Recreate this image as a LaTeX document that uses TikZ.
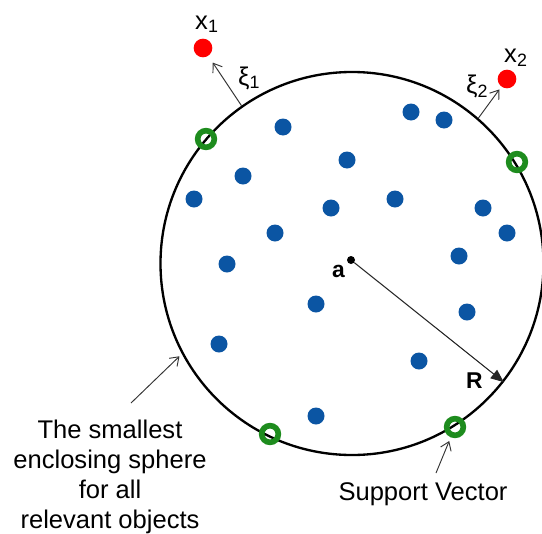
\documentclass[tikz,border=0pt]{standalone}
\usepackage{fontspec}
\setmainfont{Liberation Sans}
\usepackage{xcolor}
\definecolor{dotblue}{HTML}{0B55A3}
\definecolor{outred}{HTML}{FF0000}
\definecolor{svgreen}{HTML}{1E8C1E}
\definecolor{ink}{HTML}{333333}
\usepackage{tikz}
\usetikzlibrary{arrows.meta}
\tikzset{
  sphere/.style  ={draw=black,circle,line width=0.07cm,minimum size=11.49cm,
                   inner sep=0pt},
  obj/.style     ={circle,fill=dotblue,minimum size=0.51cm,inner sep=0pt},
  outlier/.style ={circle,fill=outred,minimum size=0.56cm,inner sep=0pt},
  sv/.style      ={circle,draw=svgreen,line width=0.17cm,minimum size=0.5cm,
                   inner sep=0pt},
  ctr/.style     ={circle,fill=black,minimum size=0.24cm,inner sep=0pt},
  lbl/.style     ={font=\fontsize{21.8}{25.6}\selectfont,inner sep=0pt},
  lblb/.style    ={font=\fontsize{19.5}{23}\selectfont\bfseries,inner sep=0pt},
  ptr/.style     ={-{Straight Barb[length=2.4mm,width=3.4mm]},draw=ink,
                   line width=0.8pt},
  radarrow/.style={-{Triangle[length=3.9mm,width=3.2mm]},draw=black!85,
                   line width=0.9pt},
}

\begin{document}
\begin{tikzpicture}[x=0.03cm,y=-0.03cm]
\useasboundingbox (0,0) rectangle (542,533);
%---------------- sphere and centre
\node[sphere] (sph) at (352,263.5) {};
\node[ctr] (a) at (351,260) {};
\node[lblb,anchor=base east] (albl) at (345,277) {a};
\node[lblb,anchor=base west] (rlbl) at (466,388) {R};
\draw[radarrow] (a) -- (sph.-38);
%---------------- objects inside
\node[obj] (o1) at (283,127) {};  \node[obj] (o2) at (411,112) {};
\node[obj] (o3) at (444,120) {};  \node[obj] (o4) at (347,160) {};
\node[obj] (o5) at (243,176) {};  \node[obj] (o6) at (194,199) {};
\node[obj] (o7) at (331,208) {};  \node[obj] (o8) at (395,199) {};
\node[obj] (o9) at (483,208) {};  \node[obj] (o10) at (507,233) {};
\node[obj] (o11) at (275,233) {}; \node[obj] (o12) at (459,256) {};
\node[obj] (o13) at (227,264) {}; \node[obj] (o14) at (316,304) {};
\node[obj] (o15) at (467,312) {}; \node[obj] (o16) at (219,344) {};
\node[obj] (o17) at (419,361) {}; \node[obj] (o18) at (316,416) {};
%---------------- support vectors
\node[sv] (sv1) at (206,139) {};
\node[sv] (sv2) at (517,162) {};
\node[sv] (sv3) at (270,434) {};
\node[sv] (sv4) at (455,427) {};
%---------------- outliers
\node[outlier] (x1) at (203,48) {};
\node[outlier] (x2) at (507,79) {};
\node[lbl,anchor=base west] (x1lbl) at (195,29) {x\textsubscript{1}};
\node[lbl,anchor=base west] (x2lbl) at (504,62) {x\textsubscript{2}};
\node[lbl,anchor=base west] (xi1lbl) at (238,85) {ξ\textsubscript{1}};
\node[lbl,anchor=base west] (xi2lbl) at (466,93) {ξ\textsubscript{2}};
\draw[ptr,shorten >=2.4mm] (sph.125.6) -- (x1);
\draw[ptr,shorten >=1mm] (sph.49) -- (x2);
%---------------- captions
\node[lbl,align=center,anchor=north] (sphtxt) at (110,420)
  {The smallest\\enclosing sphere\\for all\\relevant objects};
\node[lbl,anchor=base] (svtxt) at (423,500) {Support Vector};
\coordinate (sphtail) at (131,403);
\coordinate (svtail) at (436,473);
\draw[ptr,shorten >=1mm] (sphtail) -- (sph.208);
\draw[ptr,shorten >=1.2mm] (svtail) -- (sv4);
\end{tikzpicture}
\end{document}
